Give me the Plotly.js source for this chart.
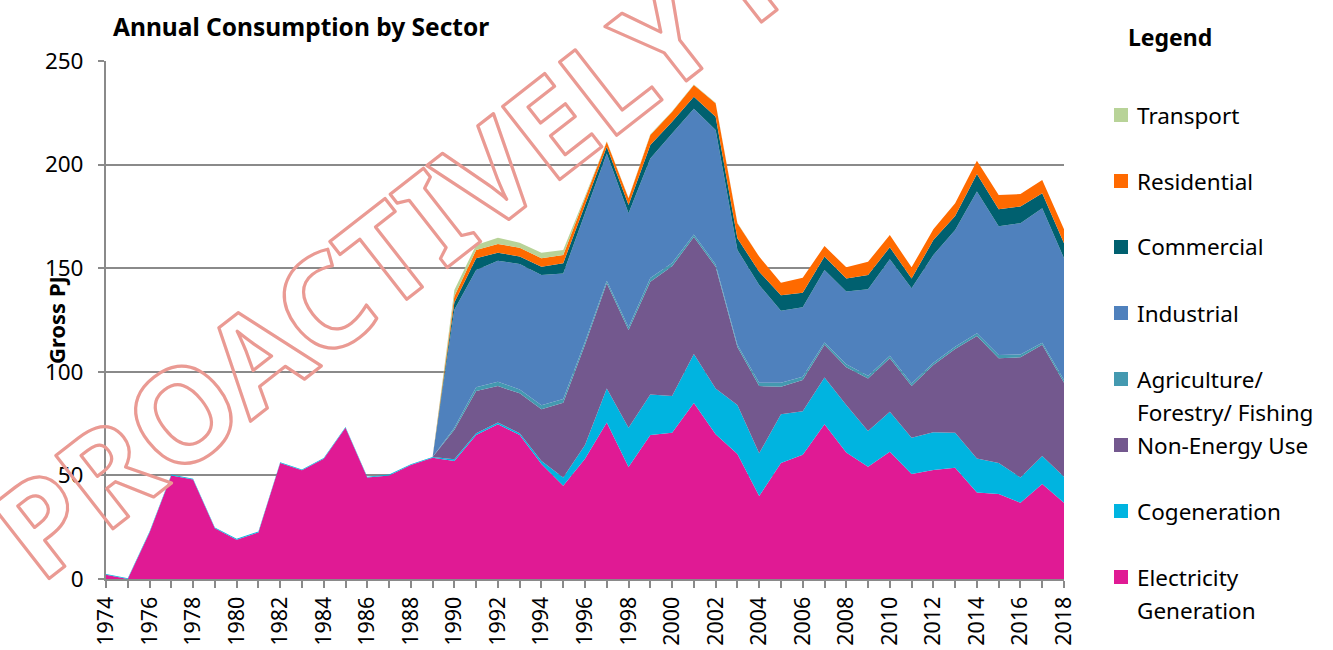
<!DOCTYPE html>
<html>
<head>
<meta charset="utf-8">
<script src="https://cdn.plot.ly/plotly-3.0.1.min.js"></script>
<style>
html,body{margin:0;padding:0;background:#ffffff;}
#chart{width:1333px;height:650px;}
.annotation[data-index="0"] .annotation-text{fill:none !important;stroke:#EA9A93;stroke-width:3.2px;stroke-linejoin:round;}
</style>
</head>
<body>
<div id="chart"></div>
<script>
// ---------- DATA (Gross PJ) ----------
const years = [1974,1975,1976,1977,1978,1979,1980,1981,1982,1983,1984,1985,1986,1987,1988,1989,
  1990,1991,1992,1993,1994,1995,1996,1997,1998,1999,2000,2001,2002,2003,2004,2005,2006,2007,
  2008,2009,2010,2011,2012,2013,2014,2015,2016,2017,2018];

const electricity = [2,0,22.5,50,48,24.5,19,22.5,56,52.5,58,73,49,50,55,58.5,
  57,69.5,74.7,69.5,55.5,45,58,75.5,54,69.5,70.6,85,69.8,60.3,40,56,60,74.7,
  61,54.2,61.4,50.7,52.6,53.7,41.8,41,36.8,45.8,36.8];

const cogeneration = [0.4,0.4,0.4,0.4,0.4,0.4,0.4,0.4,0.4,0.4,0.4,0.4,0.4,0.4,0.4,0.4,
  0.8,0.8,0.8,0.8,1.5,4,6.7,16.5,19,19.5,17.7,23.6,22.2,23.7,20.7,23.5,21,22.5,
  23,17.2,19.3,17.5,18.2,16.9,16.4,15,12.2,13.6,12.6];

const nonEnergy = [0,0,0,0,0,0,0,0,0,0,0,0,0,0,0,0,
  14.2,20.4,17.6,19.3,24.9,36.1,48.3,50.7,47.2,54.5,62.7,56.4,58.7,28,32.4,13.3,15,15.8,
  18.2,25.4,25.8,24.9,32.5,40.4,59.1,50.5,58,53.6,45.3];

const agriculture = [0,0,0,0,0,0,0,0,0,0,0,0,0,0,0,0,
  1,1.8,2.1,1.9,1.9,1.8,1.5,1.3,1.3,1.8,1.5,1.3,1.1,1,1.6,1.9,1.6,1.2,
  1.4,1.3,1.3,1.3,1.1,1.1,1.3,1.6,1.4,1,1.3];

const industrial = [0,0,0,0,0,0,0,0,0,0,0,0,0,0,0,0,
  57,56.6,58.4,60.5,62.9,60.6,62,61.4,55,57.7,62.5,60.7,64.9,45.8,47.2,34.8,33.5,34.9,
  35.1,41.7,46.5,45.9,52,56.3,68.4,62.2,63.3,64.9,58.8];

const commercial = [0,0,0,0,0,0,0,0,0,0,0,0,0,0,0,0,
  3.5,5.7,3.9,3.6,4,4.9,4,3.2,4,6.5,5.7,5.8,6.4,5.6,6.4,7.5,7.1,6.5,
  6.3,6.9,5.8,4.7,7.2,6.8,8.5,8.1,8.1,7.3,7.2];

const residential = [0,0,0,0,0,0,0,0,0,0,0,0,0,0,0,0,
  3,4,4.2,4.3,4.1,4,3.2,2.4,3.2,4.8,4.8,5.6,6.5,7.3,7.3,6,7.2,5.1,
  5.4,6.4,5.9,5.4,5.2,6.1,6.4,6.9,6,6.4,6.8];

const transport = [0,0,0,0,0,0,0,0,0,0,0,0,0,0,0,0,
  3,2.4,3,2.4,2.7,2.4,1,0.3,0.3,0.3,0.3,0.2,0.2,0.2,0,0,0,0,
  0,0,0,0,0,0,0,0,0,0,0];

// stacking order bottom -> top
const seriesNames = ['Electricity Generation','Cogeneration','Non-Energy Use',
  'Agriculture/ Forestry/ Fishing','Industrial','Commercial','Residential','Transport'];
const legendLines = [['Electricity','Generation'],['Cogeneration'],['Non-Energy Use'],
  ['Agriculture/','Forestry/ Fishing'],['Industrial'],['Commercial'],['Residential'],['Transport']];
const seriesValues = [electricity,cogeneration,nonEnergy,agriculture,industrial,commercial,residential,transport];
const seriesColors = ['#E01A94','#00B4E0','#73588E','#4499B0','#4F81BD','#00606F','#FF6A00','#B8D398'];

const chartTitle = 'Annual Consumption by Sector';
const yTitle = 'Gross PJ';
const legendTitle = 'Legend';
const watermarkText = 'PROACTIVELY RELEASED';

// ---------- LAYOUT GEOMETRY ----------
const W = 1333, H = 650;
const L = 106, R = 1064, T = 61, B = 579;
const px = x => (x - L) / (R - L);
const py = y => (B - y) / (B - T);
const FONT = 'Noto Sans, Open Sans, sans-serif';
const GRID = '#8a8a8a';

const traces = seriesValues.map((vals, i) => ({
  type: 'scatter', mode: 'lines', x: years, y: vals, name: seriesNames[i],
  stackgroup: 'one', line: {width: 0, color: seriesColors[i]}, fillcolor: seriesColors[i],
  showlegend: false
}));

const annotations = [
  { // watermark (index 0, outlined via CSS)
    xref: 'paper', yref: 'paper', x: px(615), y: py(73), xanchor: 'center', yanchor: 'middle',
    text: '<b>' + watermarkText + '</b>', textangle: -38, showarrow: false,
    font: {family: FONT, size: 130, color: '#EA9A93'}
  },
  {
    xref: 'paper', yref: 'paper', x: px(56), y: py(320), xanchor: 'center', yanchor: 'middle',
    text: '<b>' + yTitle + '</b>', textangle: -90, showarrow: false,
    font: {family: FONT, size: 22, color: '#000'}
  },
  {
    xref: 'paper', yref: 'paper', x: px(1126), y: py(37), xanchor: 'left', yanchor: 'middle',
    text: '<b>' + legendTitle + '</b>', showarrow: false,
    font: {family: FONT, size: 23, color: '#000'}
  }
];
const shapes = [];
const LEG_Y0 = 115, LEG_STEP = 66, LINE_STEP = 33;
for (let k = 0; k < seriesNames.length; k++) {
  const i = seriesNames.length - 1 - k;
  const yc = LEG_Y0 + LEG_STEP * k;
  shapes.push({type: 'rect', xref: 'paper', yref: 'paper',
    x0: px(1114), x1: px(1128), y0: py(yc + 7), y1: py(yc - 7),
    fillcolor: seriesColors[i], line: {width: 0}});
  legendLines[i].forEach((t, j) => annotations.push({
    xref: 'paper', yref: 'paper', x: px(1135), y: py(yc + LINE_STEP * j),
    xanchor: 'left', yanchor: 'middle', text: t, showarrow: false,
    font: {family: FONT, size: 22.5, color: '#000'}
  }));
}

const layout = {
  width: W, height: H,
  margin: {l: L, r: W - R, t: T, b: H - B, pad: 0},
  paper_bgcolor: '#ffffff', plot_bgcolor: '#ffffff',
  showlegend: false,
  title: {text: '<b>' + chartTitle + '</b>', xref: 'container', yref: 'container',
    x: 113 / W, xanchor: 'left', y: 1 - 27 / H, yanchor: 'middle',
    font: {family: FONT, size: 24.5, color: '#000'}},
  xaxis: {
    range: [1974, 2018], tickmode: 'linear', tick0: 1974, dtick: 2, tickangle: -90,
    ticks: 'outside', ticklen: 7, tickwidth: 1.5, tickcolor: GRID,
    showline: true, linecolor: GRID, linewidth: 2, showgrid: false, zeroline: false,
    tickfont: {family: FONT, size: 21.5, color: '#000'},
    minor: {dtick: 1, tick0: 1974, ticks: 'outside', ticklen: 7, tickwidth: 1.5, tickcolor: GRID, showgrid: false},
    fixedrange: true
  },
  yaxis: {
    range: [0, 250], tickmode: 'linear', tick0: 0, dtick: 50,
    ticks: 'outside', ticklen: 6, tickwidth: 1.5, tickcolor: GRID,
    ticklabelstandoff: 10,
    showline: true, linecolor: GRID, linewidth: 2,
    showgrid: true, gridcolor: GRID, gridwidth: 2, zeroline: false,
    tickfont: {family: FONT, size: 22.5, color: '#000'},
    fixedrange: true
  },
  annotations: annotations,
  shapes: shapes
};

Plotly.newPlot('chart', traces, layout, {displayModeBar: false, responsive: false});
</script>
</body>
</html>
